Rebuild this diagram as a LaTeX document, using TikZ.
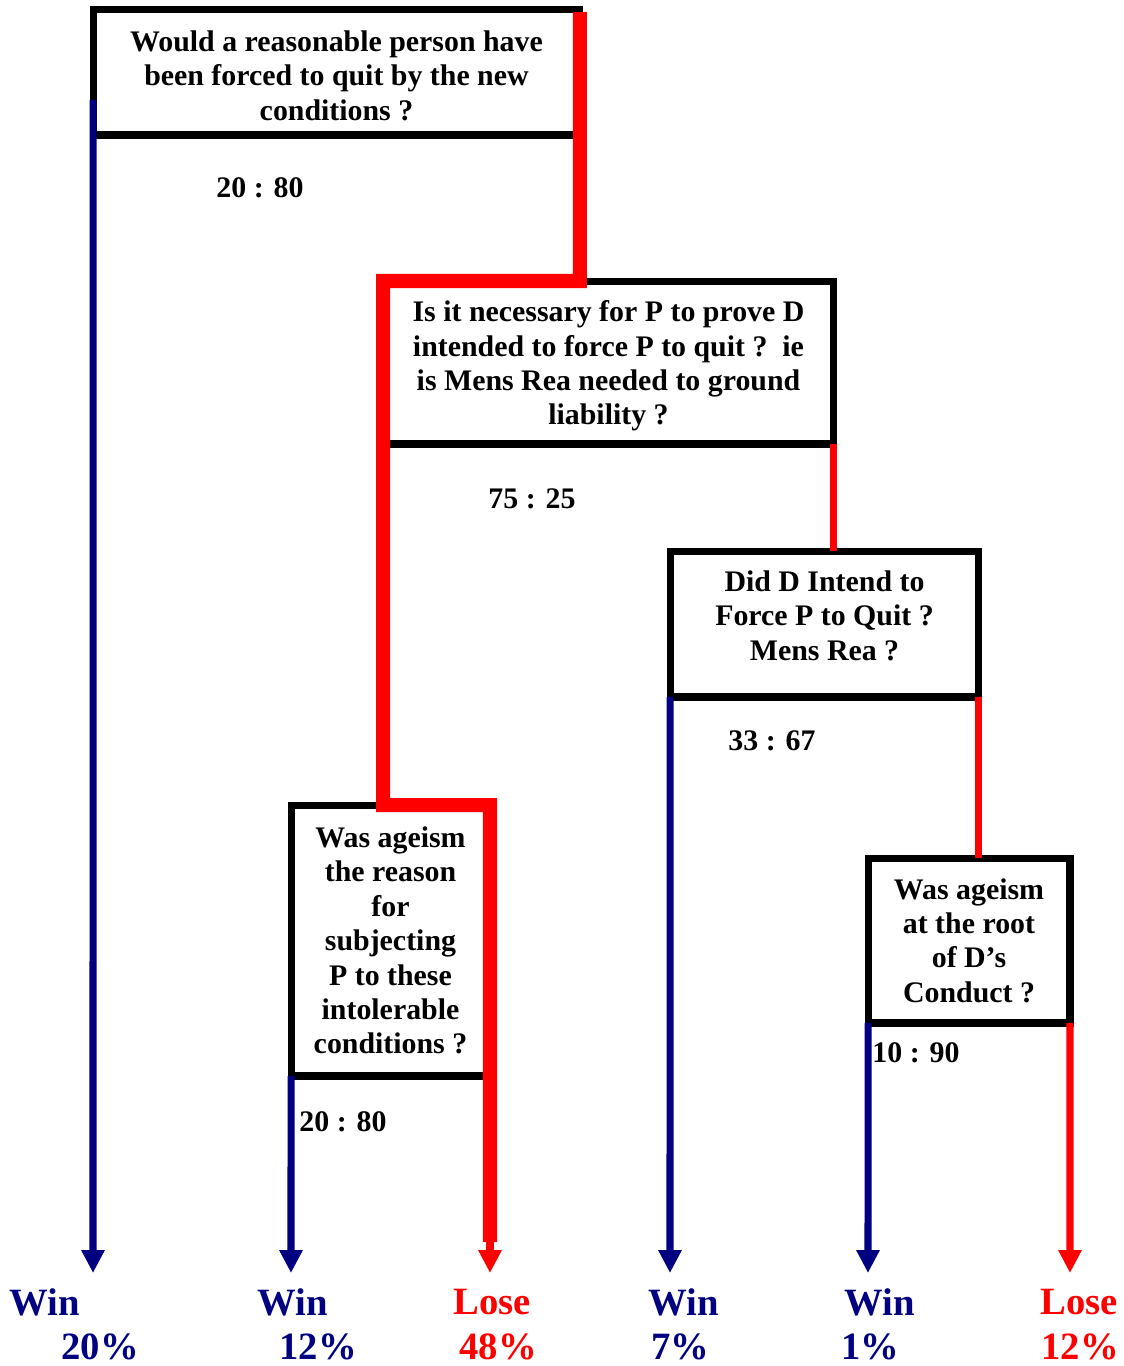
\documentclass[tikz,border=0pt]{standalone}
\usepackage{fontspec}
\setmainfont{Liberation Serif}
\usetikzlibrary{arrows.meta}
\definecolor{winblue}{RGB}{0,0,128}
\definecolor{losered}{RGB}{255,0,0}

\begin{document}
\begin{tikzpicture}[x=0.02cm,y=-0.02cm,
  question/.style={draw=black, line width=4pt, fill=white, inner sep=0pt,
    outer sep=0pt, align=center, font=\fontsize{17}{19.6}\selectfont\bfseries},
  odds/.style={font=\fontsize{17}{20}\selectfont\bfseries, inner sep=0pt},
  outcome/.style={font=\fontsize{22}{26}\selectfont\bfseries, inner sep=0pt},
  tiphead/.style={-{Triangle[width=12.5pt,length=13pt]}},
  winline/.style={draw=winblue, line width=4pt, tiphead},
  loseline/.style={draw=losered, line width=4pt, tiphead},
  losethin/.style={draw=losered, line width=4pt},
  mainroute/.style={draw=losered, line width=8pt, line join=miter},
]
\useasboundingbox (0,0) rectangle (1124,1366);

% question boxes
\node[question, minimum width=9.74cm, minimum height=2.52cm] (q1) at (336.5,72)
  {\rule{0pt}{16pt}Would a reasonable person have\\ been forced to quit by the new\\ conditions ?};
\node[question, minimum width=9.02cm, minimum height=3.26cm] (q2) at (608.5,362.5)
  {\rule{0pt}{16pt}Is it necessary for P to prove D\\ intended to force P to quit ?~~ie\\ is Mens Rea needed to ground\\ liability ?};
\node[question, minimum width=6.18cm, minimum height=2.92cm] (q3) at (824.5,624)
  {Did D Intend to\\ Force P to Quit ?\\ Mens Rea ?\rule[-10pt]{0pt}{10pt}};
\node[question, minimum width=4.04cm, minimum height=3.3cm] (q4) at (969,940.5)
  {Was ageism\\ at the root\\ of D’s\\ Conduct ?};
\node[question, minimum width=3.98cm, minimum height=5.42cm] (q5) at (390.5,940.5)
  {Was ageism\\ the reason\\ for\\ subjecting\\ P to these\\ intolerable\\ conditions ?};

% odds labels
\node[odds] (o1) at (260,188) {20 : 80};
\node[odds] (o2) at (532,499) {75 : 25};
\node[odds] (o3) at (772,741) {33 : 67};
\node[odds] (o4) at (916,1053) {10 : 90};
\node[odds] (o5) at (343,1122) {20 : 80};

% arrow ends
\coordinate (e1) at (93,1273);
\coordinate (e2) at (291,1273);
\coordinate (e3) at (490,1273);
\coordinate (e4) at (670,1273);
\coordinate (e5) at (868,1273);
\coordinate (e6) at (1070,1273);
\coordinate (r1) at (490,1242);

% winning branches
\draw[winline] ([yshift=0.7cm]q1.south west) -- (e1);
\draw[winline] (q5.south west) -- (e2);
\draw[winline] (q3.south west) -- (e4);
\draw[winline] (q4.south west) -- (e5);

% losing branches
\draw[losethin] (q2.south east) -- (q2.south east |- q3.north);
\draw[losethin] (q3.south east) -- (q3.south east |- q4.north);
\draw[loseline] (q4.south east) -- (e6);

% most likely route
\draw[mainroute] ([yshift=-0.06cm]q1.north east) -- (q1.east |- q2.north)
  -- (q2.north west) -- (q2.west |- q5.north) -- (q5.north east) -- (r1);
\draw[loseline] (r1) -- (e3);

% outcomes
\node[outcome, text=winblue] (w1) at (45,1302) {Win};
\node[outcome, text=winblue] (p1) at (100,1347) {20\%};
\node[outcome, text=winblue] (w2) at (293,1302) {Win};
\node[outcome, text=winblue] (p2) at (318,1347) {12\%};
\node[outcome, text=losered] (w3) at (492,1302) {Lose};
\node[outcome, text=losered] (p3) at (498,1347) {48\%};
\node[outcome, text=winblue] (w4) at (684,1302) {Win};
\node[outcome, text=winblue] (p4) at (680,1347) {7\%};
\node[outcome, text=winblue] (w5) at (880,1302) {Win};
\node[outcome, text=winblue] (p5) at (870,1347) {1\%};
\node[outcome, text=losered] (w6) at (1079,1302) {Lose};
\node[outcome, text=losered] (p6) at (1080,1347) {12\%};
\end{tikzpicture}
\end{document}
